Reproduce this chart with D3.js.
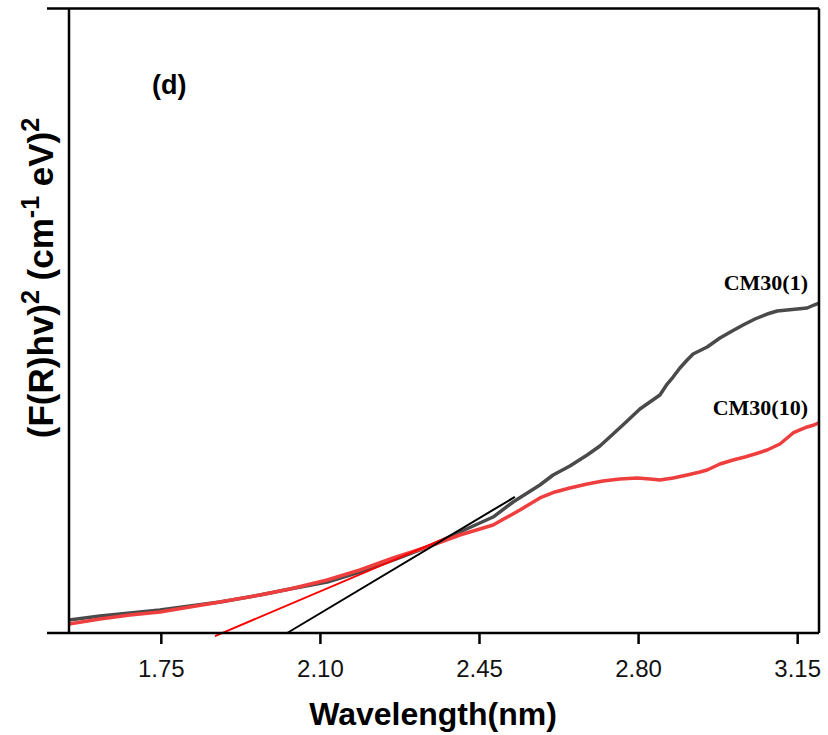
<!DOCTYPE html>
<html>
<head>
<meta charset="utf-8">
<script src="https://cdn.jsdelivr.net/npm/d3@7"></script>
<style>
  body { margin: 0; background: #fff; }
  svg { display: block; }
</style>
</head>
<body>
<div id="chart"></div>
<script>
(function(){
  var width = 828,
    height = 735;

  // CM30(1) curve (x in eV, y in arbitrary units)
  var cm1X = [1.548,1.616,1.682,1.748,1.814,1.880,1.968,2.034,2.116,2.188,2.261,2.336,2.408,2.481,2.525,2.584,2.613,2.650,2.688,2.716,2.745,2.776,2.804,2.826,2.848,2.864,2.877,2.892,2.908,2.921,2.952,2.980,3.007,3.031,3.057,3.084,3.106,3.128,3.150,3.172,3.187,3.198];
  var cm1Y = [2.08,2.72,3.20,3.68,4.32,4.96,6.08,7.05,8.17,9.77,11.69,13.77,16.17,18.57,20.98,23.70,25.30,26.74,28.50,29.94,31.87,33.95,35.87,36.99,38.11,39.87,40.99,42.43,43.71,44.68,45.80,47.24,48.36,49.32,50.28,51.08,51.56,51.72,51.88,52.04,52.52,52.84];

  // CM30(10) curve
  var cm10X = [1.548,1.616,1.682,1.748,1.814,1.880,1.968,2.034,2.116,2.188,2.261,2.336,2.408,2.481,2.540,2.584,2.617,2.650,2.688,2.723,2.760,2.798,2.826,2.848,2.877,2.908,2.936,2.952,2.980,3.009,3.035,3.057,3.084,3.112,3.141,3.156,3.172,3.187,3.198];
  var cm10Y = [1.44,2.24,2.88,3.36,4.16,4.96,6.08,7.05,8.49,10.09,12.01,13.77,15.69,17.29,19.70,21.62,22.58,23.22,23.86,24.34,24.66,24.82,24.66,24.50,24.82,25.30,25.78,26.10,27.06,27.70,28.18,28.66,29.30,30.26,32.03,32.51,32.99,33.31,33.63];

  // tangent (band gap) lines
  var tangent1 = [[2.028, 0], [2.529, 21.8]];
  var tangent10 = [[1.869, -0.5], [2.380, 15.3]];

  var xTicks = [1.75, 2.10, 2.45, 2.80, 3.15];

  var left = 69, right = 819, top = 8.5, bottom = 633;

  var svg = d3.select("#chart")
    .append("svg")
    .attr("width", width)
    .attr("height", height);

  var x = d3.scaleLinear().domain([1.548, 3.198]).range([left, right]);
  var y = d3.scaleLinear().domain([0, 100]).range([bottom, top]);

  svg.append("clipPath").attr("id", "clip")
    .append("rect")
    .attr("x", left).attr("y", top)
    .attr("width", right - left).attr("height", bottom - top);

  var line = d3.line()
    .x(function(d){ return x(d[0]); })
    .y(function(d){ return y(d[1]); });

  var cm1 = cm1X.map(function(v, i){ return [v, cm1Y[i]]; });
  var cm10 = cm10X.map(function(v, i){ return [v, cm10Y[i]]; });

  var plot = svg.append("g").attr("clip-path", "url(#clip)");

  plot.append("path")
    .datum(cm1)
    .attr("d", line)
    .attr("fill", "none")
    .attr("stroke", "#4a4a4a")
    .attr("stroke-width", 3.5)
    .attr("stroke-linejoin", "round");

  plot.append("path")
    .datum(cm10)
    .attr("d", line)
    .attr("fill", "none")
    .attr("stroke", "#ef3e3e")
    .attr("stroke-width", 3.5)
    .attr("stroke-linejoin", "round");

  svg.append("path")
    .datum(tangent10)
    .attr("d", line)
    .attr("fill", "none")
    .attr("stroke", "#ff0000")
    .attr("stroke-width", 2);

  svg.append("path")
    .datum(tangent1)
    .attr("d", line)
    .attr("fill", "none")
    .attr("stroke", "#000")
    .attr("stroke-width", 2);

  // frame
  var frame = svg.append("g")
    .attr("stroke", "#000")
    .attr("stroke-width", 2.5)
    .attr("fill", "none");
  frame.append("line").attr("x1", 47).attr("x2", right).attr("y1", bottom).attr("y2", bottom);
  frame.append("line").attr("x1", 47).attr("x2", right).attr("y1", top).attr("y2", top);
  frame.append("line").attr("x1", left).attr("x2", left).attr("y1", top).attr("y2", bottom);
  frame.append("line").attr("x1", right).attr("x2", right).attr("y1", top).attr("y2", bottom);

  var xAxis = svg.append("g")
    .attr("transform", "translate(0," + bottom + ")")
    .call(d3.axisBottom(x)
      .tickValues(xTicks)
      .tickFormat(d3.format(".2f"))
      .tickSize(11)
      .tickSizeOuter(0)
      .tickPadding(16));
  xAxis.select(".domain").remove();
  xAxis.selectAll(".tick line").attr("stroke", "#000").attr("stroke-width", 2.5);
  xAxis.selectAll(".tick text")
    .attr("fill", "#111")
    .style("font-family", "'Liberation Sans', Arial, sans-serif")
    .style("font-size", "24px");

  svg.append("text")
    .attr("x", 433)
    .attr("y", 725)
    .attr("text-anchor", "middle")
    .style("font-family", "'Liberation Sans', Arial, sans-serif")
    .style("font-weight", "bold")
    .style("font-size", "32px")
    .text("Wavelength(nm)");

  var yl = svg.append("text")
    .attr("transform", "translate(53,278) rotate(-90)")
    .attr("text-anchor", "middle")
    .style("font-family", "'Liberation Sans', Arial, sans-serif")
    .style("font-weight", "bold")
    .style("font-size", "35px");
  yl.append("tspan").text("(F(R)hv)");
  yl.append("tspan").attr("dy", -14).style("font-size", "25px").text("2");
  yl.append("tspan").attr("dy", 14).text(" (cm");
  yl.append("tspan").attr("dy", -14).style("font-size", "25px").text("-1");
  yl.append("tspan").attr("dy", 14).text(" eV)");
  yl.append("tspan").attr("dy", -14).style("font-size", "25px").text("2");

  svg.append("text")
    .attr("x", 152)
    .attr("y", 94)
    .style("font-family", "'Liberation Sans', Arial, sans-serif")
    .style("font-weight", "bold")
    .style("font-size", "27px")
    .text("(d)");

  svg.append("text")
    .attr("x", 808)
    .attr("y", 290)
    .attr("text-anchor", "end")
    .style("font-family", "'Liberation Serif', 'Times New Roman', serif")
    .style("font-weight", "bold")
    .style("font-size", "22px")
    .text("CM30(1)");

  svg.append("text")
    .attr("x", 808)
    .attr("y", 415)
    .attr("text-anchor", "end")
    .style("font-family", "'Liberation Serif', 'Times New Roman', serif")
    .style("font-weight", "bold")
    .style("font-size", "22px")
    .text("CM30(10)");

})();
</script>
</body>
</html>
